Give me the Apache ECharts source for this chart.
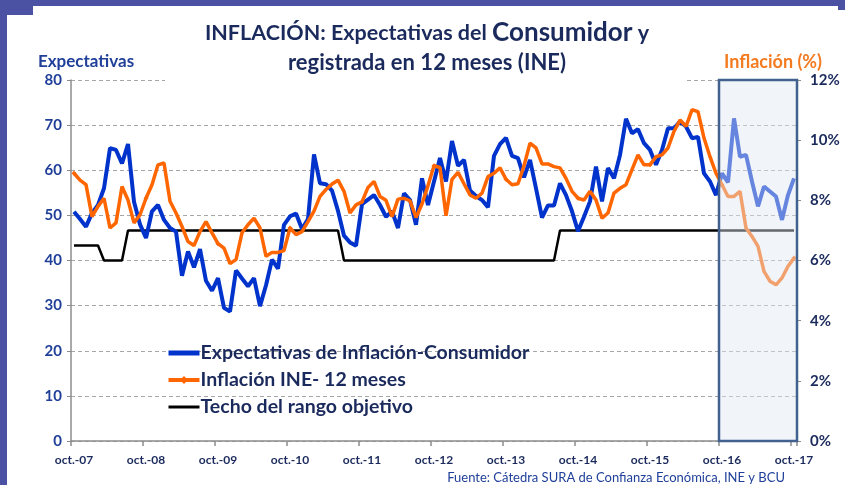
<!DOCTYPE html>
<html>
<head>
<meta charset="utf-8">
<script src="https://cdn.jsdelivr.net/npm/echarts@6/dist/echarts.min.js"></script>
<style>
html,body{margin:0;padding:0;background:#fff;}
#chart{width:845px;height:485px;}
</style>
</head>
<body>
<div id="chart"></div>
<script>
// ---- Data ----
const monthNames = ['ene.','feb.','mar.','abr.','may.','jun.','jul.','ago.','sep.','oct.','nov.','dic.'];
// monthly categories oct.-07 ... oct.-17
const categories = [];
for (let k = 0; k <= 120; k++) {
  const m = (9 + k) % 12;
  const y = 7 + Math.floor((9 + k) / 12);
  categories.push(monthNames[m] + '-' + (y < 10 ? '0' + y : '' + y));
}

// Expectativas de Inflación-Consumidor (left axis)
const expectativas = [
  50.8,49.2,47.5,50.5,52.3,56,64.9,64.5,61.5,65.8,
  53,48,45,50.9,52.3,49,47.2,46.4,36.6,42,
  38.5,42.5,35.5,33.3,36.1,29.5,28.7,37.8,36,34.3,
  36.1,29.9,34.5,40.2,38.2,47.9,49.8,50.4,47,49.2,
  63.5,57.1,56.9,55.5,51,45.5,44,43.3,52.5,53.5,
  54.5,52.3,49.7,50.9,47.2,54.9,53.4,47.9,58.2,52.3,
  57.5,62.7,57.5,66.5,61,62.3,55.5,54.3,53.4,51.8,
  63.2,65.8,67.2,63.2,62.7,58.4,62.3,56,49.5,52.2,
  52.2,57.1,54.5,50.9,46.5,49.7,53.1,60.8,53.1,60.5,
  58.2,63.4,71.4,68.2,69.1,66,64.5,61.2,64.5,69.3,
  69.3,70.8,69.7,67.1,67.4,59.3,57.5,54.5,59.3,57.3,
  71.5,63,63.4,57.5,52,56.4,55.3,54.2,49,54.5,
  58.2
];

// Inflación INE 12 meses, % (right axis)
const inflacion = [
  8.90,8.67,8.52,7.46,7.80,8.07,7.08,7.25,8.46,8.01,
  7.25,7.52,8.07,8.52,9.18,9.24,7.97,7.58,7.13,6.63,
  6.50,6.96,7.29,6.92,6.56,6.41,5.90,6.03,6.92,7.19,
  7.41,7.08,6.14,6.27,6.27,6.33,7.08,6.86,6.96,7.29,
  7.64,8.13,8.36,8.54,8.67,8.30,7.58,7.85,7.95,8.43,
  8.63,8.13,8.00,7.46,8.04,8.07,7.98,7.43,7.88,8.49,
  9.15,9.09,7.49,8.70,8.93,8.55,8.18,8.07,8.24,8.79,
  8.90,9.08,8.70,8.52,8.55,9.15,9.90,9.74,9.21,9.21,
  9.12,9.08,8.73,8.30,8.07,8.01,8.30,8.01,7.41,7.58,
  8.24,8.40,8.52,9.02,9.51,9.18,9.18,9.45,9.51,9.74,
  10.29,10.67,10.46,11.01,10.95,10.07,9.45,8.90,8.52,8.13,
  8.13,8.30,7.08,6.80,6.47,5.64,5.31,5.19,5.42,5.81,
  6.08
];

// Techo del rango objetivo, % (right axis)
const techo = [
  6.5,6.5,6.5,6.5,6.5,6,6,6,6,7,
  7,7,7,7,7,7,7,7,7,7,
  7,7,7,7,7,7,7,7,7,7,
  7,7,7,7,7,7,7,7,7,7,
  7,7,7,7,7,6,6,6,6,6,
  6,6,6,6,6,6,6,6,6,6,
  6,6,6,6,6,6,6,6,6,6,
  6,6,6,6,6,6,6,6,6,6,
  6,7,7,7,7,7,7,7,7,7,
  7,7,7,7,7,7,7,7,7,7,
  7,7,7,7,7,7,7,7,7,7,
  7,7,7,7,7,7,7,7,7,7,
  7
];

const leftTicks = [0, 80, 10];   // min, max, interval
const rightTicks = [0, 12, 2];   // %
const highlightFrom = 'oct.-16';

// ---- Chart ----
const FONT = 'Lato, "Open Sans", sans-serif';
const NAVY = '#1b2a5c';
const chart = echarts.init(document.getElementById('chart'), null, {renderer: 'canvas'});

const option = {
  animation: false,
  backgroundColor: '#ffffff',
  textStyle: {fontFamily: FONT},
  grid: {left: 71, right: 48, top: 80, bottom: 44, containLabel: false},
  legend: {
    orient: 'vertical',
    left: 161,
    top: 337,
    itemGap: 5,
    itemWidth: 31,
    itemHeight: 10,
    textStyle: {fontFamily: FONT, fontSize: 19.5, lineHeight: 22, fontWeight: 'bold', color: NAVY, padding: [0, 0, 0, -4]},
    data: [
      {name: 'Expectativas de Inflación-Consumidor', itemStyle: {opacity: 0}, lineStyle: {width: 5, color: '#0033cc'}},
      {name: 'Inflación INE- 12 meses', lineStyle: {width: 4, color: '#ff6600'}},
      {name: 'Techo del rango objetivo', itemStyle: {opacity: 0}, lineStyle: {width: 3, color: '#000000'}}
    ]
  },
  xAxis: {
    type: 'category',
    data: categories,
    boundaryGap: true,
    axisLine: {lineStyle: {color: '#8c8c8c', width: 1.5}},
    axisTick: {show: true, interval: 11, alignWithLabel: false, length: 5, lineStyle: {color: '#8c8c8c', width: 1.5}},
    axisLabel: {interval: 11, margin: 13, fontFamily: FONT, fontSize: 12, fontWeight: 'bold', color: NAVY},
    splitLine: {show: false}
  },
  yAxis: [
    {
      type: 'value',
      min: leftTicks[0], max: leftTicks[1], interval: leftTicks[2],
      axisLine: {show: true, lineStyle: {color: '#8c8c8c', width: 1.5}},
      axisTick: {show: true, length: 4, lineStyle: {color: '#8c8c8c'}},
      axisLabel: {margin: 9, fontFamily: FONT, fontSize: 15, fontWeight: 'bold', color: '#1f3f99'},
      splitLine: {show: true, lineStyle: {color: '#a6a6a6', type: [4, 3], width: 1}}
    },
    {
      type: 'value',
      min: rightTicks[0], max: rightTicks[1], interval: rightTicks[2],
      position: 'right',
      axisLine: {show: true, lineStyle: {color: '#8c8c8c', width: 1.5}},
      axisTick: {show: true, length: 4, lineStyle: {color: '#8c8c8c'}},
      axisLabel: {margin: 13, fontFamily: FONT, fontSize: 15, fontWeight: 'bold', color: NAVY, formatter: '{value}%'},
      splitLine: {show: false}
    }
  ],
  series: [
    {
      name: 'Techo del rango objetivo',
      type: 'line',
      yAxisIndex: 1,
      data: techo,
      symbol: 'none',
      lineStyle: {color: '#000000', width: 2.5},
      itemStyle: {color: '#000000'},
      z: 2
    },
    {
      name: 'Expectativas de Inflación-Consumidor',
      type: 'line',
      yAxisIndex: 0,
      data: expectativas,
      symbol: 'none',
      lineStyle: {color: '#0033cc', width: 4},
      itemStyle: {color: '#0033cc'},
      z: 3
    },
    {
      name: 'Inflación INE- 12 meses',
      type: 'line',
      yAxisIndex: 1,
      data: inflacion,
      symbol: 'diamond',
      symbolSize: 5,
      showSymbol: true,
      lineStyle: {color: '#ff6600', width: 3.5},
      itemStyle: {color: '#ff6600'},
      z: 4
    }
  ]
};
chart.setOption(option);

// ---- Decorations (computed from the axes) ----
const xA = chart.convertToPixel({xAxisIndex: 0}, categories[0]);
const xB = chart.convertToPixel({xAxisIndex: 0}, categories[1]);
const half = (xB - xA) / 2;
const boxL = chart.convertToPixel({xAxisIndex: 0}, highlightFrom) - half;
const boxR = chart.convertToPixel({xAxisIndex: 0}, categories[categories.length - 1]) + half;
const yTop = chart.convertToPixel({yAxisIndex: 0}, leftTicks[1]);
const yBot = chart.convertToPixel({yAxisIndex: 0}, leftTicks[0]);

chart.setOption({
  graphic: [
    // slide frame
    {type: 'rect', silent: true, z: 200, shape: {x: 0, y: 0, width: 845, height: 6}, style: {fill: '#4b52a3'}},
    {type: 'rect', silent: true, z: 200, shape: {x: 0, y: 0, width: 33, height: 15}, style: {fill: '#4b52a3'}},
    {type: 'rect', silent: true, z: 200, shape: {x: 0, y: 0, width: 7, height: 485}, style: {fill: '#4b52a3'}},
    {type: 'rect', silent: true, z: 200, shape: {x: 838, y: 0, width: 7, height: 10}, style: {fill: '#4b52a3'}},
    // title background covering the top gridline
    {type: 'rect', silent: true, z: 50, shape: {x: 165, y: yTop - 4, width: 522, height: 8}, style: {fill: '#ffffff'}},
    // highlighted period box
    {type: 'rect', silent: true, z: 100,
      shape: {x: boxL, y: yTop, width: boxR - boxL, height: yBot - yTop},
      style: {fill: 'rgba(225,232,244,0.45)', stroke: '#41628f', lineWidth: 2.5}},
    // title
    {type: 'text', silent: true, z: 120, x: 427, y: 33,
      style: {text: '{a|INFLACIÓN: Expectativas del }{b|Consumidor}{a| y}', align: 'center', verticalAlign: 'middle',
        rich: {a: {fontFamily: FONT, fontSize: 21.5, fontWeight: 'bold', fill: NAVY},
               b: {fontFamily: FONT, fontSize: 26, fontWeight: 'bold', fill: NAVY}}}},
    {type: 'text', silent: true, z: 120, x: 427, y: 63,
      style: {text: 'registrada en 12 meses (INE)', align: 'center', verticalAlign: 'middle',
        fontFamily: FONT, fontSize: 22, fontWeight: 'bold', fill: NAVY}},
    // axis captions
    {type: 'text', silent: true, z: 120, x: 86, y: 62,
      style: {text: 'Expectativas', align: 'center', verticalAlign: 'middle',
        fontFamily: FONT, fontSize: 17, fontWeight: 'bold', fill: '#1f3f99'}},
    {type: 'text', silent: true, z: 120, x: 773, y: 62,
      style: {text: 'Inflación (%)', align: 'center', verticalAlign: 'middle',
        fontFamily: FONT, fontSize: 18, fontWeight: 'bold', fill: '#f47b20'}},
    // source
    {type: 'text', silent: true, z: 120, x: 785, y: 478,
      style: {text: 'Fuente: Cátedra SURA de Confianza Económica, INE y BCU', align: 'right', verticalAlign: 'middle',
        fontFamily: FONT, fontSize: 13, fill: '#1f3f99'}}
  ]
});
</script>
</body>
</html>
